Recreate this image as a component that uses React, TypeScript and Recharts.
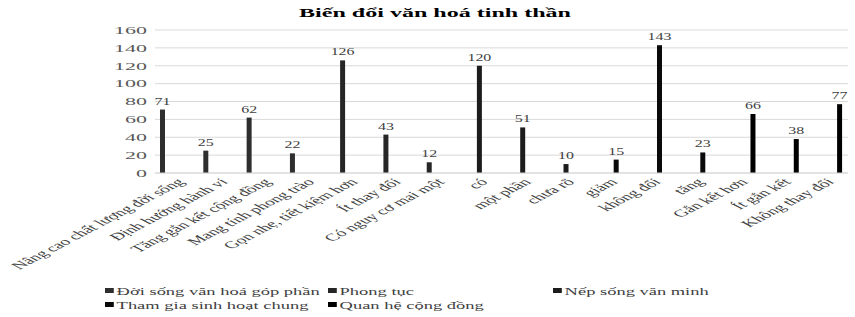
import React from 'react';
import { BarChart, Bar, XAxis, YAxis, CartesianGrid, Legend } from 'recharts';

const seriesNames = [
  'Đời sống văn hoá góp phần',
  'Phong tục',
  'Nếp sống văn minh',
  'Tham gia sinh hoạt chung',
  'Quan hệ cộng đồng',
];
const seriesColors = ['#2e2e2e', '#262626', '#1c1c1c', '#0a0a0a', '#000000'];

const cats1 = ['Nâng cao chất lượng đời sống', 'Định hướng hành vi', 'Tăng gắn kết cộng đồng', 'Mang tính phong trào'];
const vals1 = [71, 25, 62, 22];
const cats2 = ['Gọn nhẹ, tiết kiệm hơn', 'Ít thay đổi', 'Có nguy cơ mai một'];
const vals2 = [126, 43, 12];
const cats3 = ['có', 'một phần', 'chưa rõ'];
const vals3 = [120, 51, 10];
const cats4 = ['giảm', 'không đổi', 'tăng'];
const vals4 = [15, 143, 23];
const cats5 = ['Gắn kết hơn', 'Ít gắn kết', 'Không thay đổi'];
const vals5 = [66, 38, 77];

const yTicks = [0, 20, 40, 60, 80, 100, 120, 140, 160];
const title = 'Biến đổi văn hoá tinh thần';

const groups = [
  [cats1, vals1],
  [cats2, vals2],
  [cats3, vals3],
  [cats4, vals4],
  [cats5, vals5],
] as [string[], number[]][];

const data: any[] = [];
groups.forEach(([cats, vals], si) => {
  cats.forEach((c, i) => {
    const row: any = { name: c };
    row['s' + si] = vals[i];
    data.push(row);
  });
});

const FONT = '"Liberation Serif", "Times New Roman", serif';
const SX = 1.9;

const XTick = (props: any) => {
  const { x, y, payload } = props;
  return (
    <g transform={`translate(${x + 4},${y + 7}) scale(${SX},1) rotate(-45)`}>
      <text x={0} y={0} dy="0.35em" textAnchor="end" fontSize={10.3} fill="#404040" fontFamily={FONT}>
        {payload.value}
      </text>
    </g>
  );
};

const YTick = (props: any) => {
  const { x, y, payload } = props;
  return (
    <g transform={`translate(${x},${y}) scale(2,1)`}>
      <text x={0} y={0} dy="0.35em" textAnchor="end" fontSize={11} fill="#595959" fontFamily={FONT}>
        {payload.value}
      </text>
    </g>
  );
};

const renderLabel = (props: any) => {
  const { x, y, width, value } = props;
  if (value === null || value === undefined) return null;
  return (
    <g transform={`translate(${x + width / 2},${y - 5}) scale(1.45,1)`}>
      <text x={0} y={0} textAnchor="middle" fontSize={11} fill="#404040" fontFamily={FONT}>
        {value}
      </text>
    </g>
  );
};

const legendPos = [
  { left: 105, top: 5 },
  { left: 328, top: 5 },
  { left: 553, top: 5 },
  { left: 105, top: 19 },
  { left: 328, top: 19 },
];

const LegendContent = () => (
  <svg width={855} height={38} style={{ display: 'block' }}>
    {seriesNames.map((n, i) => (
      <g key={n} transform={`translate(${legendPos[i].left},${legendPos[i].top + 7}) scale(1.76,1)`}>
        <rect x={0} y={-3} width={5} height={5} fill={seriesColors[i]} />
        <text x={6.6} y={0} dy="0.35em" fontSize={10.5} fill="#404040" fontFamily={FONT}>
          {n}
        </text>
      </g>
    ))}
  </svg>
);

export default function App() {
  return (
    <div style={{ position: 'absolute', left: 0, top: 0, width: 855, height: 317, background: '#fff' }}>
      <svg width={855} height={30} style={{ position: 'absolute', left: 0, top: 0 }}>
        <g transform={`translate(435,17) scale(1.85,1)`}>
          <text x={0} y={0} textAnchor="middle" fontSize={13} fontWeight="bold" fill="#000" fontFamily={FONT}>
            {title}
          </text>
        </g>
      </svg>
      <BarChart
        width={855}
        height={317}
        data={data}
        margin={{ top: 30, right: 7, left: 0, bottom: 0 }}
        barSize={5}
        barGap={1.85}
      >
        <CartesianGrid vertical={false} stroke="#d9d9d9" />
        <XAxis
          dataKey="name"
          interval={0}
          height={106}
          tick={<XTick />}
          tickLine={false}
          tickSize={0}
          tickMargin={0}
          axisLine={{ stroke: '#d9d9d9' }}
        />
        <YAxis
          width={155}
          domain={[0, 160]}
          ticks={yTicks}
          interval={0}
          axisLine={false}
          tickLine={false}
          tickSize={0}
          tickMargin={8}
          tick={<YTick />}
        />
        <Legend verticalAlign="bottom" content={<LegendContent />} wrapperStyle={{ left: 0, width: 855, height: 38 }} />
        {seriesNames.map((n, i) => (
          <Bar
            key={n}
            dataKey={'s' + i}
            name={n}
            fill={seriesColors[i]}
            isAnimationActive={false}
            label={renderLabel}
          />
        ))}
      </BarChart>
    </div>
  );
}
